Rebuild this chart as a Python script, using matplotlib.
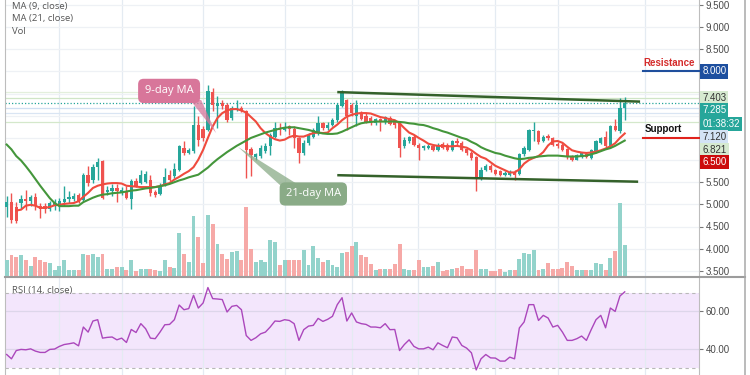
import numpy as np
import matplotlib
matplotlib.use("Agg")
import matplotlib.pyplot as plt
from matplotlib.patches import Polygon
from matplotlib.lines import Line2D

plt.rcParams['font.family'] = ['Liberation Sans', 'DejaVu Sans']

# ---------------- data ----------------
open_ = [4.94, 5.05, 4.95, 5.02, 5.12, 5.07, 5.17, 4.97, 4.96, 4.90,
         4.97, 4.97, 5.05, 5.11, 5.12, 5.22, 5.09, 5.66, 5.54, 5.84,
         5.97, 5.27, 5.30, 5.37, 5.26, 5.30, 5.12, 5.52, 5.48, 5.51,
         5.56, 5.27, 5.24, 5.45, 5.67, 5.63, 5.78, 6.27, 6.17, 6.20,
         6.80, 6.70, 6.68, 7.53, 7.23, 7.28, 7.25, 6.95, 7.14, 7.17,
         7.11, 6.25, 6.06, 6.10, 6.20, 6.31, 6.53, 6.70, 6.68, 6.76,
         6.70, 6.50, 6.16, 6.38, 6.53, 6.61, 6.83, 6.72, 6.80, 6.91,
         7.21, 7.35, 7.25, 6.99, 7.06, 6.99, 6.95, 6.83, 6.92, 6.85,
         6.95, 6.87, 6.83, 6.31, 6.42, 6.53, 6.35, 6.27, 6.28, 6.32,
         6.23, 6.36, 6.35, 6.22, 6.42, 6.38, 6.25, 6.17, 6.07, 5.60,
         5.77, 5.86, 5.78, 5.75, 5.67, 5.67, 5.71, 5.69, 6.14, 6.23,
         6.65, 6.65, 6.42, 6.55, 6.50, 6.36, 6.35, 6.25, 6.10, 6.01,
         6.08, 6.14, 6.05, 6.20, 6.38, 6.53, 6.31, 6.76, 6.65, 7.17]
high = [5.18, 5.26, 5.05, 5.22, 5.33, 5.22, 5.26, 5.03, 5.03, 5.07,
        5.11, 5.15, 5.41, 5.30, 5.26, 5.26, 5.71, 5.86, 5.90, 6.05,
        5.99, 5.41, 5.45, 5.45, 5.39, 5.41, 5.57, 5.59, 5.78, 5.75,
        5.67, 5.33, 5.48, 5.82, 5.78, 5.93, 6.35, 6.42, 6.27, 7.21,
        6.99, 6.76, 7.70, 7.62, 7.45, 7.36, 7.29, 7.21, 7.36, 7.21,
        7.14, 6.30, 6.16, 6.35, 6.38, 6.61, 6.87, 6.83, 6.87, 6.80,
        6.76, 6.53, 6.46, 6.61, 6.72, 6.99, 6.87, 6.85, 6.95, 7.29,
        7.59, 7.38, 7.29, 7.35, 7.10, 7.06, 6.99, 6.95, 6.95, 7.00,
        6.99, 6.91, 6.85, 6.52, 6.55, 6.57, 6.38, 6.35, 6.36, 6.35,
        6.38, 6.40, 6.38, 6.46, 6.50, 6.42, 6.28, 6.20, 6.10, 5.84,
        5.90, 5.90, 5.80, 5.78, 5.75, 5.77, 5.78, 6.16, 6.31, 6.70,
        6.85, 6.68, 6.57, 6.58, 6.53, 6.40, 6.38, 6.28, 6.12, 6.14,
        6.19, 6.17, 6.25, 6.46, 6.53, 6.65, 6.80, 6.92, 7.40, 7.42]
low = [4.72, 4.57, 4.57, 4.90, 4.88, 4.96, 4.88, 4.69, 4.81, 4.85,
       4.88, 4.85, 4.96, 5.02, 5.07, 5.03, 5.07, 5.41, 5.48, 5.56,
       5.11, 5.22, 5.18, 5.05, 5.22, 5.11, 4.90, 5.39, 5.45, 5.48,
       5.18, 5.17, 5.22, 5.41, 5.52, 5.60, 5.75, 6.12, 6.14, 6.16,
       6.31, 6.42, 6.65, 7.10, 6.72, 7.15, 6.85, 6.91, 7.10, 7.08,
       5.60, 5.65, 6.01, 6.05, 6.16, 6.12, 6.50, 6.57, 6.65, 6.57,
       6.27, 5.93, 6.12, 6.35, 6.50, 6.57, 6.68, 6.68, 6.76, 6.87,
       7.20, 6.68, 7.00, 6.76, 6.90, 6.83, 6.80, 6.80, 6.65, 6.82,
       6.78, 6.72, 6.07, 6.27, 6.38, 6.31, 6.01, 6.22, 6.25, 6.20,
       6.20, 6.25, 6.20, 6.20, 6.35, 6.20, 6.12, 6.01, 5.30, 5.56,
       5.75, 5.73, 5.66, 5.63, 5.63, 5.63, 5.56, 5.66, 6.10, 6.20,
       6.42, 6.36, 6.40, 6.46, 6.31, 6.27, 6.20, 6.03, 5.97, 5.99,
       6.05, 6.05, 6.03, 6.17, 6.36, 6.27, 6.28, 6.65, 6.62, 6.90]
close = [5.05, 4.64, 4.62, 5.12, 5.07, 5.17, 4.97, 4.90, 4.90, 5.02,
         5.03, 5.07, 5.12, 5.17, 5.18, 5.07, 5.67, 5.48, 5.84, 5.95,
         5.15, 5.33, 5.37, 5.30, 5.33, 5.15, 5.52, 5.42, 5.67, 5.69,
         5.26, 5.22, 5.42, 5.62, 5.56, 5.80, 6.31, 6.16, 6.23, 6.78,
         6.46, 6.50, 7.55, 7.25, 7.28, 7.21, 6.91, 7.17, 7.17, 7.11,
         6.23, 6.12, 6.14, 6.27, 6.31, 6.57, 6.72, 6.67, 6.72, 6.70,
         6.50, 6.16, 6.38, 6.57, 6.68, 6.83, 6.72, 6.80, 6.91, 7.25,
         7.53, 6.99, 7.06, 7.25, 6.92, 6.87, 6.85, 6.92, 6.87, 6.97,
         6.82, 6.80, 6.27, 6.46, 6.52, 6.35, 6.27, 6.31, 6.31, 6.23,
         6.35, 6.27, 6.22, 6.42, 6.38, 6.23, 6.17, 6.05, 5.60, 5.78,
         5.86, 5.77, 5.69, 5.67, 5.71, 5.73, 5.67, 6.14, 6.27, 6.67,
         6.68, 6.40, 6.53, 6.50, 6.35, 6.31, 6.23, 6.07, 6.01, 6.12,
         6.16, 6.08, 6.22, 6.42, 6.50, 6.31, 6.76, 6.68, 7.17, 7.285]
volume = [17, 22, 20, 22, 17, 11, 20, 17, 15, 14,
          7, 11, 17, 7, 7, 7, 23, 22, 23, 20,
          23, 8, 8, 10, 10, 7, 17, 6, 8, 8,
          8, 7, 6, 17, 10, 9, 44, 23, 15, 61,
          40, 14, 62, 53, 33, 23, 18, 25, 26, 17,
          70, 28, 15, 17, 15, 37, 35, 12, 17, 17,
          17, 17, 27, 12, 31, 19, 15, 17, 12, 10,
          24, 25, 31, 35, 22, 20, 13, 7, 8, 8,
          8, 13, 33, 8, 7, 7, 17, 10, 10, 11,
          15, 6, 7, 8, 9, 11, 8, 8, 27, 8,
          8, 6, 6, 8, 5, 7, 7, 18, 24, 23,
          27, 7, 8, 14, 8, 8, 9, 15, 11, 7,
          7, 7, 7, 14, 13, 7, 19, 26, 74, 32]
ma9_start = 2
ma9 = [4.86, 4.88, 4.97, 4.99, 4.97, 4.92, 4.92, 4.94, 4.98, 4.99,
       5.01, 5.02, 5.03, 5.07, 5.17, 5.26, 5.37, 5.42, 5.45, 5.47,
       5.48, 5.48, 5.47, 5.42, 5.41, 5.40, 5.39, 5.39, 5.39, 5.39,
       5.41, 5.45, 5.48, 5.56, 5.62, 5.69, 5.75, 5.84, 6.01, 6.23,
       6.50, 6.76, 6.95, 7.06, 7.12, 7.15, 7.15, 7.12, 7.07, 6.97,
       6.87, 6.72, 6.61, 6.53, 6.47, 6.44, 6.46, 6.52, 6.55, 6.53,
       6.53, 6.57, 6.61, 6.62, 6.61, 6.62, 6.72, 6.80, 6.90, 6.98,
       7.02, 7.05, 7.06, 7.06, 7.05, 7.01, 6.97, 6.95, 6.92, 6.90,
       6.83, 6.72, 6.62, 6.57, 6.50, 6.44, 6.37, 6.34, 6.32, 6.32,
       6.31, 6.31, 6.32, 6.30, 6.28, 6.22, 6.14, 6.07, 6.03, 5.95,
       5.87, 5.82, 5.77, 5.72, 5.72, 5.79, 5.92, 6.00, 6.05, 6.09,
       6.18, 6.33, 6.42, 6.43, 6.39, 6.30, 6.22, 6.19, 6.17, 6.16,
       6.17, 6.19, 6.22, 6.26, 6.31, 6.38, 6.50, 6.60]
ma21 = [6.35, 6.24, 6.09, 5.99, 5.86, 5.72, 5.57, 5.42, 5.28, 5.14,
        5.03, 4.96, 4.96, 4.96, 4.97, 4.97, 5.05, 5.10, 5.15, 5.19,
        5.22, 5.23, 5.25, 5.26, 5.27, 5.29, 5.31, 5.32, 5.34, 5.36,
        5.37, 5.39, 5.41, 5.43, 5.46, 5.50, 5.54, 5.57, 5.61, 5.64,
        5.67, 5.75, 5.83, 5.93, 6.02, 6.10, 6.18, 6.25, 6.32, 6.38,
        6.44, 6.50, 6.54, 6.58, 6.62, 6.65, 6.68, 6.71, 6.73, 6.74,
        6.74, 6.72, 6.70, 6.68, 6.65, 6.62, 6.60, 6.59, 6.59, 6.60,
        6.64, 6.69, 6.74, 6.79, 6.83, 6.85, 6.86, 6.87, 6.87, 6.87,
        6.87, 6.87, 6.86, 6.85, 6.83, 6.82, 6.80, 6.79, 6.76, 6.72,
        6.69, 6.65, 6.62, 6.58, 6.54, 6.50, 6.47, 6.41, 6.36, 6.29,
        6.24, 6.20, 6.16, 6.14, 6.10, 6.07, 6.04, 6.02, 6.03, 6.05,
        6.06, 6.08, 6.09, 6.10, 6.10, 6.10, 6.09, 6.08, 6.08, 6.08,
        6.09, 6.10, 6.13, 6.16, 6.20, 6.24, 6.27, 6.32, 6.38, 6.44]
rsi = [37.1, 34.8, 39.2, 39.8, 39.6, 40.1, 38.9, 38.2, 38.2, 39.8,
       40.0, 41.4, 42.4, 42.8, 43.3, 41.7, 51.7, 49.0, 54.9, 55.6,
       45.8, 46.2, 46.4, 44.9, 45.8, 43.5, 50.4, 48.8, 53.5, 50.8,
       45.8, 45.5, 49.0, 52.9, 53.1, 55.6, 63.4, 60.9, 61.5, 68.6,
       61.8, 64.5, 72.7, 66.8, 66.6, 66.3, 59.7, 62.7, 63.2, 60.9,
       47.2, 44.6, 46.0, 48.1, 49.0, 51.7, 54.9, 54.7, 55.6, 55.2,
       53.5, 44.6, 50.3, 52.2, 52.6, 56.3, 54.7, 55.8, 57.4, 63.6,
       67.3, 54.9, 59.2, 54.4, 53.5, 53.1, 51.7, 51.7, 51.3, 53.5,
       50.3, 50.4, 39.2, 42.4, 44.9, 41.4, 40.1, 40.1, 41.0, 39.6,
       43.3, 41.9, 40.7, 46.4, 46.0, 41.9, 40.5, 38.0, 28.9, 34.8,
       37.1, 35.3, 35.2, 33.6, 33.6, 35.7, 34.8, 51.2, 54.4, 63.6,
       63.6, 55.2, 57.9, 56.5, 51.7, 52.6, 49.0, 44.6, 44.6, 45.5,
       46.9, 44.6, 50.3, 55.6, 57.9, 51.3, 61.8, 60.0, 68.2, 70.4]

# trend lines drawn on the chart (candle index, price)
upper_trend_x = [69.0, 132.2]
upper_trend_y = [7.534, 7.319]
lower_trend_x = [69.0, 131.8]
lower_trend_y = [5.658, 5.511]

resistance = 8.000
support = 6.500
last_price = 7.285
countdown = "01:38:32"
# right-scale marker labels: (text, level, background, text colour, shift in px)
scale_marks = [("8.000", 8.000, "#1d4f9f", "white", 0),
               ("7.403", 7.403, "#d6ead0", "#333333", 0),
               ("7.285", 7.285, "#26a69a", "white", -7),
               (countdown, 7.285, "#26a69a", "white", -21),
               ("7.120", 7.120, "#d3e3f5", "#333333", -26.5),
               ("6.821", 6.821, "#d6ead0", "#333333", -26.5),
               ("6.500", 6.500, "#cc0b0b", "white", -24)]
# faint horizontal level lines
level_lines = [(7.53, "#e3efdc"), (7.403, "#cfe5c6"), (7.17, "#cfdff2"),
               (7.06, "#d9e5f3"), (6.87, "#d4e8cb")]

price_ticks = [9.5, 9.0, 8.5, 8.0, 7.5, 7.0, 6.5, 6.0, 5.5, 5.0, 4.5, 4.0, 3.5]
hidden_ticks = [8.0, 7.5, 7.0, 6.5, 6.0]
time_grid = [10.9, 24.1, 41.0, 58.1, 72.1, 85.9, 101.9, 115.1, 133.3]

# ---------------- styling ----------------
TEAL = "#26a69a"
RED = "#ef5350"
VTEAL = "#93d3cb"
VRED = "#f6a9a7"

W, H = 750, 375
fig = plt.figure(figsize=(7.5, 3.75), dpi=100)
fig.patch.set_facecolor("white")


def fx(px):
    return px / W


def fy(py):
    return 1 - py / H


ax = fig.add_axes([fx(5), fy(277), 694 / W, 277 / H])
axv = ax.twinx()
axr = fig.add_axes([fx(5), 0, 694 / W, 98 / H], sharex=ax)

n = len(close)
idx = np.arange(n)
o = np.array(open_)
c = np.array(close)
hi = np.array(high)
lo = np.array(low)
up = c >= o
col = np.where(up, TEAL, RED)
vcol = np.where(up, VTEAL, VRED)

ax.set_xlim(-0.35, 144.5)
ax.set_ylim(9.5 - 272 / 44.3, 9.5 + 5 / 44.3)

# grid
ax.set_axisbelow(True)
ax.set_yticks(price_ticks)
ax.set_yticklabels(["" if t in hidden_ticks else f"{t:.3f}" for t in price_ticks])
ax.set_xticks(time_grid)
ax.grid(axis="y", color="#eef1f5", lw=0.9)
ax.grid(axis="x", color="#e4ebf2", lw=0.9)

# level lines
for lv, lc in level_lines:
    ax.axhline(lv, color=lc, lw=0.9, zorder=1)
ax.axhline(last_price, color=TEAL, lw=0.9, ls=(0, (1, 1.6)), zorder=2)

# candles
ax.vlines(idx, lo, hi, colors=col, lw=1.0, zorder=3)
ax.bar(idx, np.maximum(np.abs(c - o), 0.012), bottom=np.minimum(o, c),
       width=0.68, color=col, linewidth=0, zorder=4)

# moving averages
ax.plot(np.arange(ma9_start, ma9_start + len(ma9)), ma9, color="#ef4b3e", lw=1.5, zorder=5)
ax.plot(idx, ma21, color="#44963b", lw=1.5, zorder=5)

# trend lines
ax.plot(upper_trend_x, upper_trend_y, color="#34612a", lw=1.8, zorder=6, solid_capstyle="butt")
ax.plot(lower_trend_x, lower_trend_y, color="#34612a", lw=1.8, zorder=6, solid_capstyle="butt")

# resistance / support
ax.plot([132.8, 144.5], [resistance, resistance], color="#1f4f9d", lw=1.5, zorder=6, clip_on=False)
ax.plot([132.8, 144.5], [support, support], color="#e0221c", lw=1.5, zorder=6, clip_on=False)
ax.annotate("Resistance", xy=(132.8, resistance), xytext=(0.5, 2.5), textcoords="offset points",
            ha="left", va="bottom", color="#d42b2b", fontsize=7, fontweight="bold", zorder=7)
ax.annotate("Support", xy=(132.8, support), xytext=(1.5, 2.5), textcoords="offset points",
            ha="left", va="bottom", color="#111111", fontsize=7, fontweight="bold", zorder=7)

# callouts
PINK = "#d8769a"
SAGE = "#8aab87"
ax.add_patch(Polygon([(38.3, 7.355), (40.6, 7.355), (43.7, 6.61)], closed=True,
                     fc=PINK, ec="none", alpha=0.75, zorder=7))
ax.text(33.9, 7.56, "9-day MA", ha="center", va="center", color="white", fontsize=8,
        family=["Open Sans", "DejaVu Sans"],
        bbox=dict(boxstyle="round,pad=0.6,rounding_size=0.5", fc=PINK, ec="none"), zorder=8)
ax.add_patch(Polygon([(48.3, 6.295), (57.3, 5.41), (60.6, 5.46)], closed=True,
                     fc=SAGE, ec="none", alpha=0.75, zorder=7))
ax.text(64.0, 5.234, "21-day MA", ha="center", va="center", color="white", fontsize=8,
        family=["Open Sans", "DejaVu Sans"],
        bbox=dict(boxstyle="round,pad=0.55,rounding_size=0.5", fc=SAGE, ec="none"), zorder=8)

# right scale labels
ax.yaxis.tick_right()
ax.tick_params(axis="y", which="both", right=True, left=False, labelright=True, labelleft=False,
               length=3, width=0.8, color="#777777", pad=2, labelsize=7, labelcolor="#4a4a4a")
ax.tick_params(axis="x", length=0, labelbottom=False)
for lbl, lv, bg, tc, dpx in scale_marks:
    ax.annotate(lbl, xy=(1.0, lv), xycoords=("axes fraction", "data"),
                xytext=(2.3, dpx * 0.72), textcoords="offset points", ha="left", va="center",
                fontsize=7, color=tc, annotation_clip=False, zorder=10,
                bbox=dict(boxstyle="square,pad=0.22", fc=bg, ec="none"))

for s in ["top", "bottom"]:
    ax.spines[s].set_visible(False)
ax.spines["left"].set_color("#bdbdbd")
ax.spines["right"].set_color("#bdbdbd")

# volume
axv.bar(idx, volume, width=0.82, color=vcol, linewidth=0, zorder=1)
axv.set_ylim(0, 277)
axv.set_axis_off()

# RSI pane
axr.set_ylim(26.2, 78.3)
axr.set_axisbelow(True)
axr.axhspan(30, 70, color="#f3e6fc", lw=0, zorder=0)
axr.axhline(70, color="#b8b8b8", lw=0.8, ls=(0, (3, 3)), zorder=1)
axr.axhline(30, color="#b8b8b8", lw=0.8, ls=(0, (3, 3)), zorder=1)
axr.plot(idx, rsi, color="#ab47bc", lw=1.0, zorder=3)
axr.set_yticks([40, 60])
axr.set_yticklabels(["40.00", "60.00"])
axr.grid(axis="y", color="#ddd6ea", lw=0.9)
axr.grid(axis="x", color="#e4ebf2", lw=0.9)
axr.yaxis.tick_right()
axr.tick_params(axis="y", right=True, left=False, labelright=True, labelleft=False,
                length=3, width=0.8, color="#777777", pad=2, labelsize=7, labelcolor="#4a4a4a")
axr.tick_params(axis="x", length=0, labelbottom=False)
for s in ["top", "bottom"]:
    axr.spines[s].set_visible(False)
axr.spines["left"].set_color("#bdbdbd")
axr.spines["right"].set_color("#bdbdbd")
axr.set_xlim(-0.35, 144.5)

# legends
for txt, py in [("MA (9, close)", 6), ("MA (21, close)", 18), ("Vol", 31)]:
    fig.text(fx(12), fy(py), txt, ha="left", va="center", fontsize=6.8, color="#555555",
             family=["Open Sans", "DejaVu Sans"])
fig.text(fx(12), fy(290), "RSI (14, close)", ha="left", va="center", fontsize=6.8,
         color="#555555", family=["Open Sans", "DejaVu Sans"])

# pane separator & outer border
fig.add_artist(Line2D([fx(5), fx(745)], [fy(277), fy(277)], transform=fig.transFigure,
                      color="#9c9c9c", lw=1.5))
fig.add_artist(Line2D([fx(745), fx(745)], [0, 1], transform=fig.transFigure,
                      color="#a8a8a8", lw=1.1))

fig.savefig("out.png", dpi=100)
